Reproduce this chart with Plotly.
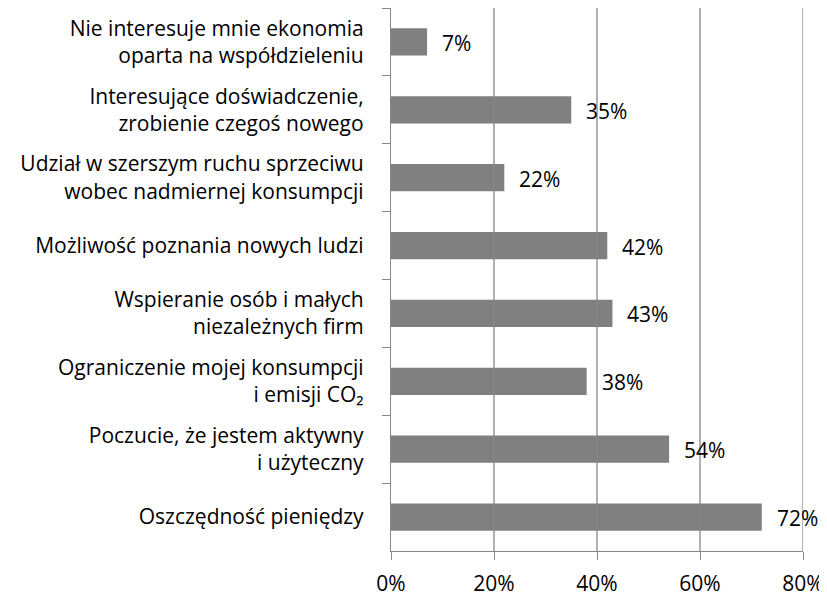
import plotly.graph_objects as go

categories = [
    "Nie interesuje mnie ekonomia<br>oparta na współdzieleniu",
    "Interesujące doświadczenie,<br>zrobienie czegoś nowego",
    "Udział w szerszym ruchu sprzeciwu<br>wobec nadmiernej konsumpcji",
    "Możliwość poznania nowych ludzi",
    "Wspieranie osób i małych<br>niezależnych firm",
    "Ograniczenie mojej konsumpcji<br>i emisji CO₂",
    "Poczucie, że jestem aktywny<br>i użyteczny",
    "Oszczędność pieniędzy",
]
values = [7, 35, 22, 42, 43, 38, 54, 72]
tick_vals = [0, 20, 40, 60, 80]
tick_text = ["0%", "20%", "40%", "60%", "80%"]

FONT = "Open Sans"
FS = 21
AX = "#878787"

fig = go.Figure()
fig.add_trace(go.Bar(
    x=values, y=categories, orientation="h",
    marker=dict(color="#808080", line=dict(width=0)),
    width=0.4,
    hoverinfo="skip",
))

for v, c in zip(values, categories):
    fig.add_annotation(x=v, y=c, text=f"{v}%", showarrow=False,
                       xanchor="left", xshift=13, yshift=-1,
                       font=dict(family=FONT, size=FS, color="#000000"))

for t in tick_vals[1:]:
    fig.add_shape(type="line", x0=t, x1=t, xref="x", y0=0, y1=1, yref="paper",
                  line=dict(color=AX, width=1.3), layer="above")

fig.update_layout(
    width=819, height=589,
    margin=dict(l=383, r=24, t=0, b=46, autoexpand=False),
    paper_bgcolor="white", plot_bgcolor="white",
    showlegend=False,
    font=dict(family=FONT, size=FS, color="#000000"),
    xaxis=dict(range=[0, 80], tickvals=tick_vals, ticktext=tick_text,
               showgrid=False, zeroline=False, automargin=False,
               showline=True, linecolor=AX, linewidth=1.3,
               ticks="outside", ticklen=8, tickcolor=AX, tickwidth=1.3,
               ticklabelstandoff=6,
               tickfont=dict(family=FONT, size=FS, color="#000000")),
    yaxis=dict(autorange="reversed", tickson="boundaries",
               showgrid=False, zeroline=False, automargin=False,
               showline=True, linecolor=AX, linewidth=1.3,
               ticks="outside", ticklen=8, tickcolor=AX, tickwidth=1.3,
               ticklabelstandoff=22,
               tickfont=dict(family=FONT, size=FS, color="#000000")),
)

fig.write_html("out.html")
